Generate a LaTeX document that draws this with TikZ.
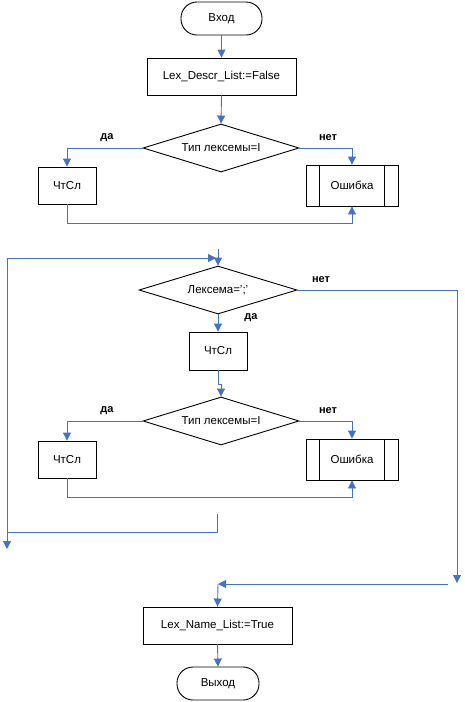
\documentclass[tikz,border=0pt]{standalone}
\usepackage{fontspec}
\setmainfont{Liberation Sans}
\usetikzlibrary{shapes.geometric,arrows.meta}
\definecolor{conn}{RGB}{68,114,196}
\tikzset{
  base/.style={draw=black,line width=0.9pt,inner sep=0pt,font=\fontsize{11.5}{13}\selectfont},
  term/.style={base,rounded corners=16pt,minimum width=81pt,minimum height=33pt},
  procbox/.style={base,rectangle,minimum width=#1,minimum height=37pt},
  decide/.style={base,diamond,aspect=3.25,minimum width=156pt,minimum height=48pt},
  errbox/.style={base,rectangle,minimum width=92pt,minimum height=41pt},
  conn/.style={draw=conn,line width=0.9pt},
  arr/.style={conn,-{Triangle[width=8pt,length=8pt]}},
  lbl/.style={font=\fontsize{11}{13}\selectfont\bfseries}
}
\begin{document}
\begin{tikzpicture}[x=1pt,y=-1pt]
\useasboundingbox (0,0) rectangle (464,702);
% section 1
\node[term] (in) at (221.5,18.5) {Вход};
\node[procbox=149pt] (b1) at (221.5,76.5) {Lex\_Descr\_List:=False};
\node[decide] (d1) at (221,148) {Тип лексемы=I};
\node[procbox=58pt] (r1) at (67,185.5) {ЧтСл};
\node[errbox] (e1) at (352,185.5) {Ошибка};
\draw[base] ([xshift=14pt]e1.north west) -- ([xshift=14pt]e1.south west);
\draw[base] ([xshift=-14pt]e1.north east) -- ([xshift=-14pt]e1.south east);
\draw[arr] (in.south) -- (b1.north);
\draw[arr] (b1.south) -- (d1.north);
\draw[arr] (d1.west) -| (r1.north);
\draw[arr] (d1.east) -| (e1.north);
\draw[arr] (r1.south) -- ++(0,19) -| (e1.south);
\node[lbl] (l1) at (107,138) {да};
\node[lbl] (l2) at (328,138) {нет};
% section 2
\node[decide,minimum width=158pt] (d2) at (218,290) {Лексема=';'};
\node[procbox=58pt,minimum height=38pt] (r2) at (218,351) {ЧтСл};
\node[decide] (d3) at (221,421) {Тип лексемы=I};
\node[procbox=58pt] (r3) at (67,459.5) {ЧтСл};
\node[errbox] (e2) at (352,459.5) {Ошибка};
\draw[base] ([xshift=14pt]e2.north west) -- ([xshift=14pt]e2.south west);
\draw[base] ([xshift=-14pt]e2.north east) -- ([xshift=-14pt]e2.south east);
\coordinate (top2) at (218,249);
\coordinate (loopA) at (217,514);
\coordinate (loopB) at (7,532);
\coordinate (loopC) at (7,258);
\coordinate (loopD) at (216,258);
\coordinate (loopE) at (7,549);
\coordinate (rightA) at (457,290);
\coordinate (rightB) at (457,583);
\draw[arr] (top2) -- (d2.north);
\draw[arr] (loopA) |- (loopB) -- (loopC) -- (loopD);
\draw[arr] (loopB) -- (loopE);
\draw[arr] (d2.east) -- (rightA) -- (rightB);
\draw[arr] (d2.south) -- (r2.north);
\draw[arr] (r2.south) -- ++(0,14) -| (d3.north);
\draw[arr] (d3.west) -| (r3.north);
\draw[arr] (d3.east) -| (e2.north);
\draw[arr] (r3.south) -- ++(0,19) -| (e2.south);
\node[lbl] (l3) at (321,280) {нет};
\node[lbl] (l4) at (251,318) {да};
\node[lbl] (l5) at (107,411) {да};
\node[lbl] (l6) at (328,411) {нет};
% section 3
\node[procbox=149pt] (b2) at (217.5,625.5) {Lex\_Name\_List:=True};
\node[term,minimum width=82pt] (out) at (218,683.5) {Выход};
\coordinate (m1) at (448,584);
\coordinate (m2) at (218,584);
\draw[arr] (m1) -- (m2);
\draw[arr] (m2) -- (b2.north);
\draw[arr] (b2.south) -- (out.north);
\end{tikzpicture}
\end{document}
